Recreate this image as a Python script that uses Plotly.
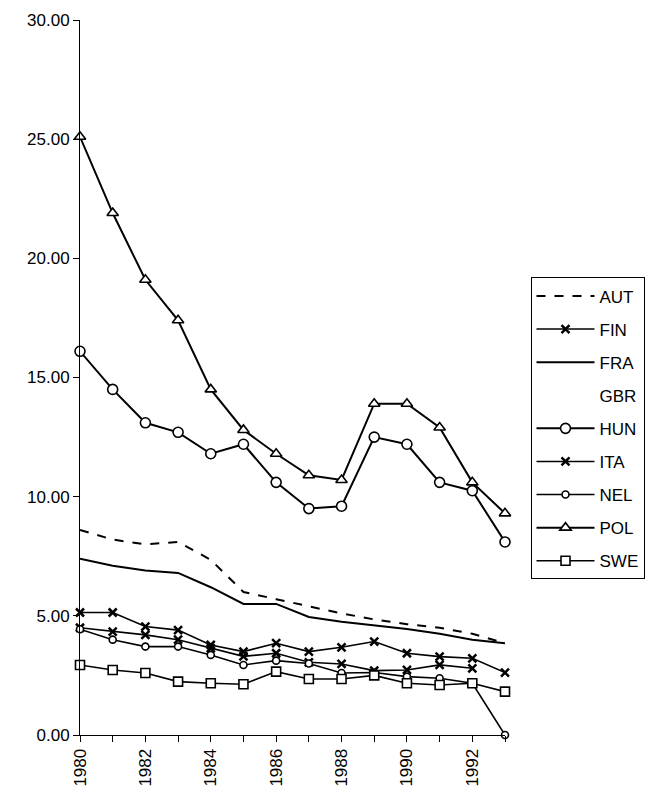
import plotly.graph_objects as go

years = list(range(1980, 1994))

AUT = [8.6, 8.2, 8.0, 8.1, 7.35, 6.0, 5.7, 5.4, 5.1, 4.85, 4.65, 4.5, 4.25, 3.85]
FIN = [5.14, 5.14, 4.55, 4.4, 3.78, 3.5, 3.85, 3.5, 3.68, 3.92, 3.43, 3.29, 3.22, 2.62]
FRA = [7.4, 7.1, 6.9, 6.8, 6.2, 5.5, 5.5, 4.95, 4.75, 4.6, 4.45, 4.25, 4.0, 3.85]
GBR = [None] * 14
HUN = [16.1, 14.5, 13.1, 12.7, 11.8, 12.2, 10.6, 9.5, 9.6, 12.5, 12.2, 10.6, 10.25, 8.1]
ITA = [4.5, 4.34, 4.2, 4.0, 3.64, 3.3, 3.43, 3.05, 2.98, 2.7, 2.73, 2.94, 2.8, None]
NEL = [4.44, 4.0, 3.71, 3.71, 3.36, 2.94, 3.12, 3.0, 2.6, 2.62, 2.45, 2.38, 2.17, 0.0]
POL = [25.1, 21.9, 19.1, 17.4, 14.5, 12.8, 11.8, 10.9, 10.7, 13.9, 13.9, 12.9, 10.6, 9.3]
SWE = [2.94, 2.73, 2.6, 2.24, 2.17, 2.13, 2.66, 2.35, 2.35, 2.5, 2.17, 2.1, 2.17, 1.82]

y_ticks = [0, 5, 10, 15, 20, 25, 30]
x_label_years = [1980, 1982, 1984, 1986, 1988, 1990, 1992]

FONT = "Liberation Sans, Arial, sans-serif"

series = [
    ("AUT", AUT, dict(mode="lines", line=dict(color="black", width=2, dash="dash"))),
    ("FIN", FIN, dict(mode="lines+markers", line=dict(color="black", width=1.6),
                      marker=dict(symbol="x-thin", size=8, color="black",
                                  line=dict(color="black", width=2.5)))),
    ("FRA", FRA, dict(mode="lines", line=dict(color="black", width=2))),
    ("GBR", GBR, dict(mode="lines", line=dict(color="rgba(0,0,0,0)", width=0))),
    ("HUN", HUN, dict(mode="lines+markers", line=dict(color="black", width=2),
                      marker=dict(symbol="circle", size=10, color="white",
                                  line=dict(color="black", width=1.6)))),
    ("ITA", ITA, dict(mode="lines+markers", line=dict(color="black", width=1.6),
                      marker=dict(symbol="x-thin", size=8, color="black",
                                  line=dict(color="black", width=2.5)))),
    ("NEL", NEL, dict(mode="lines+markers", line=dict(color="black", width=1.6),
                      marker=dict(symbol="circle", size=7, color="white",
                                  line=dict(color="black", width=1.6)))),
    ("POL", POL, dict(mode="lines+markers", line=dict(color="black", width=2),
                      marker=dict(symbol="triangle-up", size=10, color="white",
                                  line=dict(color="black", width=1.6)))),
    ("SWE", SWE, dict(mode="lines+markers", line=dict(color="black", width=1.6),
                      marker=dict(symbol="square", size=9, color="white",
                                  line=dict(color="black", width=1.6)))),
]

fig = go.Figure()
for name, vals, style in series:
    fig.add_trace(go.Scatter(x=years, y=vals, name=name, legendgroup=name,
                             cliponaxis=False, connectgaps=False, **style))

fig.update_layout(
    width=660, height=803,
    margin=dict(l=80, r=155, t=20, b=68),
    paper_bgcolor="white", plot_bgcolor="white",
    font=dict(family=FONT, size=17, color="black"),
    showlegend=True,
    legend=dict(x=1.06, y=0.64, xanchor="left", yanchor="top",
                bordercolor="black", borderwidth=1, bgcolor="white",
                tracegroupgap=8, font=dict(size=17, family=FONT),
                traceorder="grouped", itemwidth=58),
)
fig.update_xaxes(
    range=[1980, 1993], tickmode="array", tickvals=years,
    ticktext=[str(y) if y in x_label_years else "" for y in years],
    tickangle=-90, ticks="outside", ticklen=6, tickcolor="black",
    showline=True, linecolor="black", linewidth=1, showgrid=False,
    zeroline=False, tickfont=dict(size=17, family=FONT),
)
fig.update_yaxes(
    range=[0, 30], tickmode="array", tickvals=y_ticks,
    ticktext=[f"{v:.2f}" for v in y_ticks],
    ticks="outside", ticklen=6, tickcolor="black",
    showline=True, linecolor="black", linewidth=1, showgrid=False,
    zeroline=False, tickfont=dict(size=17, family=FONT),
)

fig.write_html("out.html")
